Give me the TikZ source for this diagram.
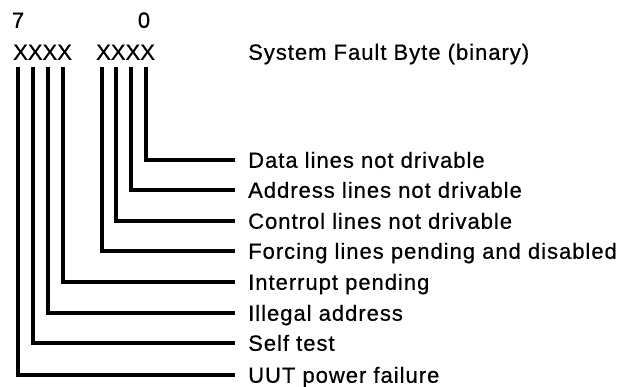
\documentclass[tikz,border=0pt]{standalone}
\usepackage{fontspec}
\setmainfont{Liberation Sans}[LetterSpace=4.5, FakeBold=0.6]
\begin{document}
\begin{tikzpicture}[x=1pt,y=-1pt,
  txt/.style={font=\fontsize{22}{25}\selectfont, inner sep=0pt,
              text height=15.5pt, text depth=0pt},
  lbl/.style={txt, anchor=west},
  bits/.style={lbl, font=\fontsize{22}{25}\selectfont\addfontfeature{LetterSpace=0}},
  wire/.style={line width=3.4pt, line join=miter, shorten >=13pt}]
  \useasboundingbox (0,0) rectangle (628,386);

  % bit numbers and the byte pattern
  \node[txt] (msb) at (18,20) {7};
  \node[txt] (lsb) at (144,20) {0};
  \node[bits] (hi) at (13,52) {XXXX};
  \node[bits] (lo) at (96,52) {XXXX};
  \node[lbl] (title) at (248,52) {System Fault Byte (binary)};

  % top ends of the bit lines
  \coordinate (b7) at (18,67);
  \coordinate (b6) at (33,67);
  \coordinate (b5) at (48,67);
  \coordinate (b4) at (63,67);
  \coordinate (b3) at (102,67);
  \coordinate (b2) at (116,67);
  \coordinate (b1) at (131,67);
  \coordinate (b0) at (146,67);

  % meanings of the bits
  \node[lbl] (l0) at (248,160) {Data lines not drivable};
  \node[lbl] (l1) at (248,190) {Address lines not drivable};
  \node[lbl] (l2) at (248,221) {Control lines not drivable};
  \node[lbl] (l3) at (248,251) {Forcing lines pending and disabled};
  \node[lbl] (l4) at (248,282) {Interrupt pending};
  \node[lbl] (l5) at (248,313) {Illegal address};
  \node[lbl] (l6) at (248,343) {Self test};
  \node[lbl] (l7) at (248,375) {UUT power failure};

  \foreach \i in {0,...,7}
    \draw[wire] (b\i) |- (l\i.west);
\end{tikzpicture}
\end{document}
